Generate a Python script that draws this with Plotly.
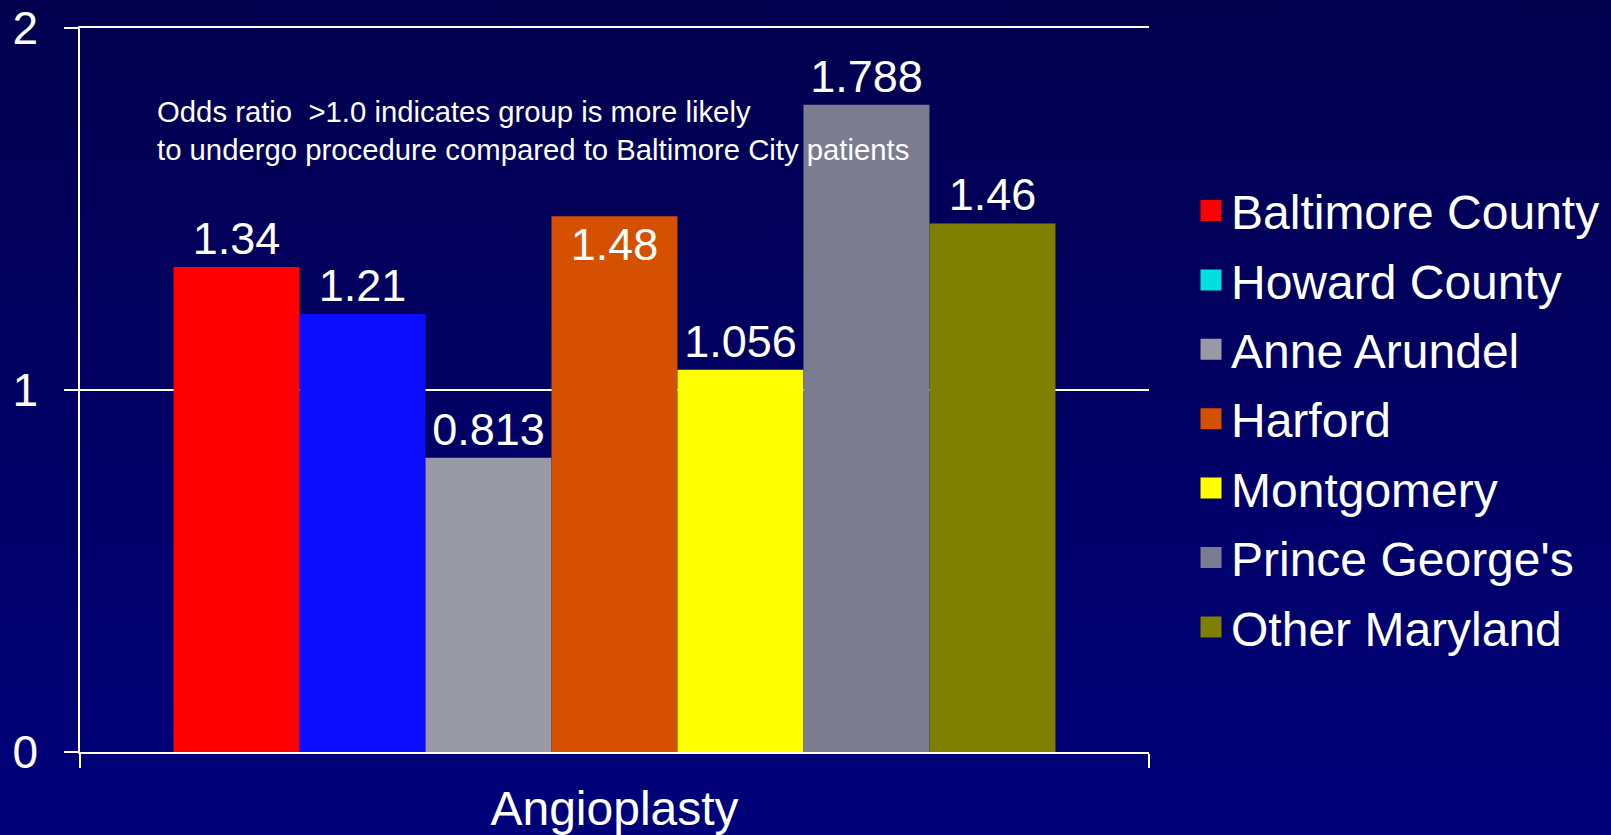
import base64
import plotly.graph_objects as go

# ---- data ----
category = ["Angioplasty"]
groups = ["Baltimore County", "Howard County", "Anne Arundel", "Harford",
          "Montgomery", "Prince George's", "Other Maryland"]
odds_ratio = [1.34, 1.21, 0.813, 1.48, 1.056, 1.788, 1.46]
bar_colors = ["#FF0000", "#0C0CFF", "#9A9AA6", "#D55000", "#FFFF00", "#7C7C90", "#808000"]
legend_colors = ["#FF0000", "#00E0E0", "#9A9AA6", "#D55000", "#FFFF00", "#7C7C90", "#808000"]
label_positions = ["outside", "outside", "outside", "inside", "outside", "outside", "outside"]
y_ticks = [0, 1, 2]
note = "Odds ratio  >1.0 indicates group is more likely<br>to undergo procedure compared to Baltimore City patients"

W, H = 1611, 835
FONT = "Liberation Sans, Arial, sans-serif"

fig = go.Figure()
for name, val, col, pos in zip(groups, odds_ratio, bar_colors, label_positions):
    fig.add_trace(go.Bar(
        x=category, y=[val], name=name, marker=dict(color=col, line=dict(width=0)),
        texttemplate="%{y}", textposition=pos, insidetextanchor="end",
        textangle=0, constraintext="none", cliponaxis=False,
        textfont=dict(family=FONT, size=45, color="white"),
        showlegend=False, hoverinfo="name+y",
    ))

# legend entries (legend swatch colours differ from bars in the original)
for name, col in zip(groups, legend_colors):
    fig.add_trace(go.Scatter(
        x=[None], y=[None], mode="markers", name=name, legendgroup=name,
        marker=dict(symbol="square", size=16, color=col, line=dict(color=col, width=5)),
    ))

# gradient background
svg = ('<svg xmlns="http://www.w3.org/2000/svg" width="10" height="100" preserveAspectRatio="none">'
       '<defs><linearGradient id="g" x1="0" y1="0" x2="0" y2="1">'
       '<stop offset="0" stop-color="#02004E"/><stop offset="1" stop-color="#00007A"/>'
       '</linearGradient></defs><rect width="10" height="100" fill="url(#g)"/></svg>')
src = "data:image/svg+xml;base64," + base64.b64encode(svg.encode()).decode()

fig.update_layout(
    width=W, height=H,
    margin=dict(l=80, r=462, t=28, b=83, pad=0, autoexpand=False),
    paper_bgcolor="#000066",
    plot_bgcolor="rgba(0,0,0,0)",
    barmode="group", bargap=0.175, bargroupgap=0,
    font=dict(family=FONT, color="white"),
    images=[dict(source=src, xref="paper", yref="paper", x=-80/1069, y=1+28/724,
                 sizex=W/1069, sizey=H/724, sizing="stretch", xanchor="left",
                 yanchor="top", layer="below")],
    legend=dict(x=1.0393, xanchor="left", y=0.80, yanchor="top",
                font=dict(family=FONT, size=48, color="white"),
                bgcolor="rgba(0,0,0,0)", traceorder="grouped", tracegroupgap=4,
                itemclick=False),
    annotations=[dict(text=note, xref="paper", yref="paper", x=0.070, y=0.858,
                      xanchor="left", yanchor="middle", align="left", showarrow=False,
                      font=dict(family=FONT, size=29.3, color="white"))],
    xaxis=dict(automargin=False, showline=True, mirror=True, linecolor="white",
               linewidth=2, ticks="outside", tickson="boundaries", ticklen=14,
               tickcolor="white", tickwidth=1.5, showgrid=False,
               tickfont=dict(family=FONT, size=48, color="white"),
               ticklabelstandoff=13, zeroline=False),
    yaxis=dict(automargin=False, range=[0, 2], tickvals=y_ticks, showline=True,
               linecolor="white", linewidth=1.5, ticks="outside", ticklen=14,
               tickcolor="white", tickwidth=2, showgrid=True, gridcolor="white",
               gridwidth=2, zeroline=False,
               tickfont=dict(family=FONT, size=46, color="white"),
               ticklabelstandoff=17),
)

fig.write_html("out.html")
